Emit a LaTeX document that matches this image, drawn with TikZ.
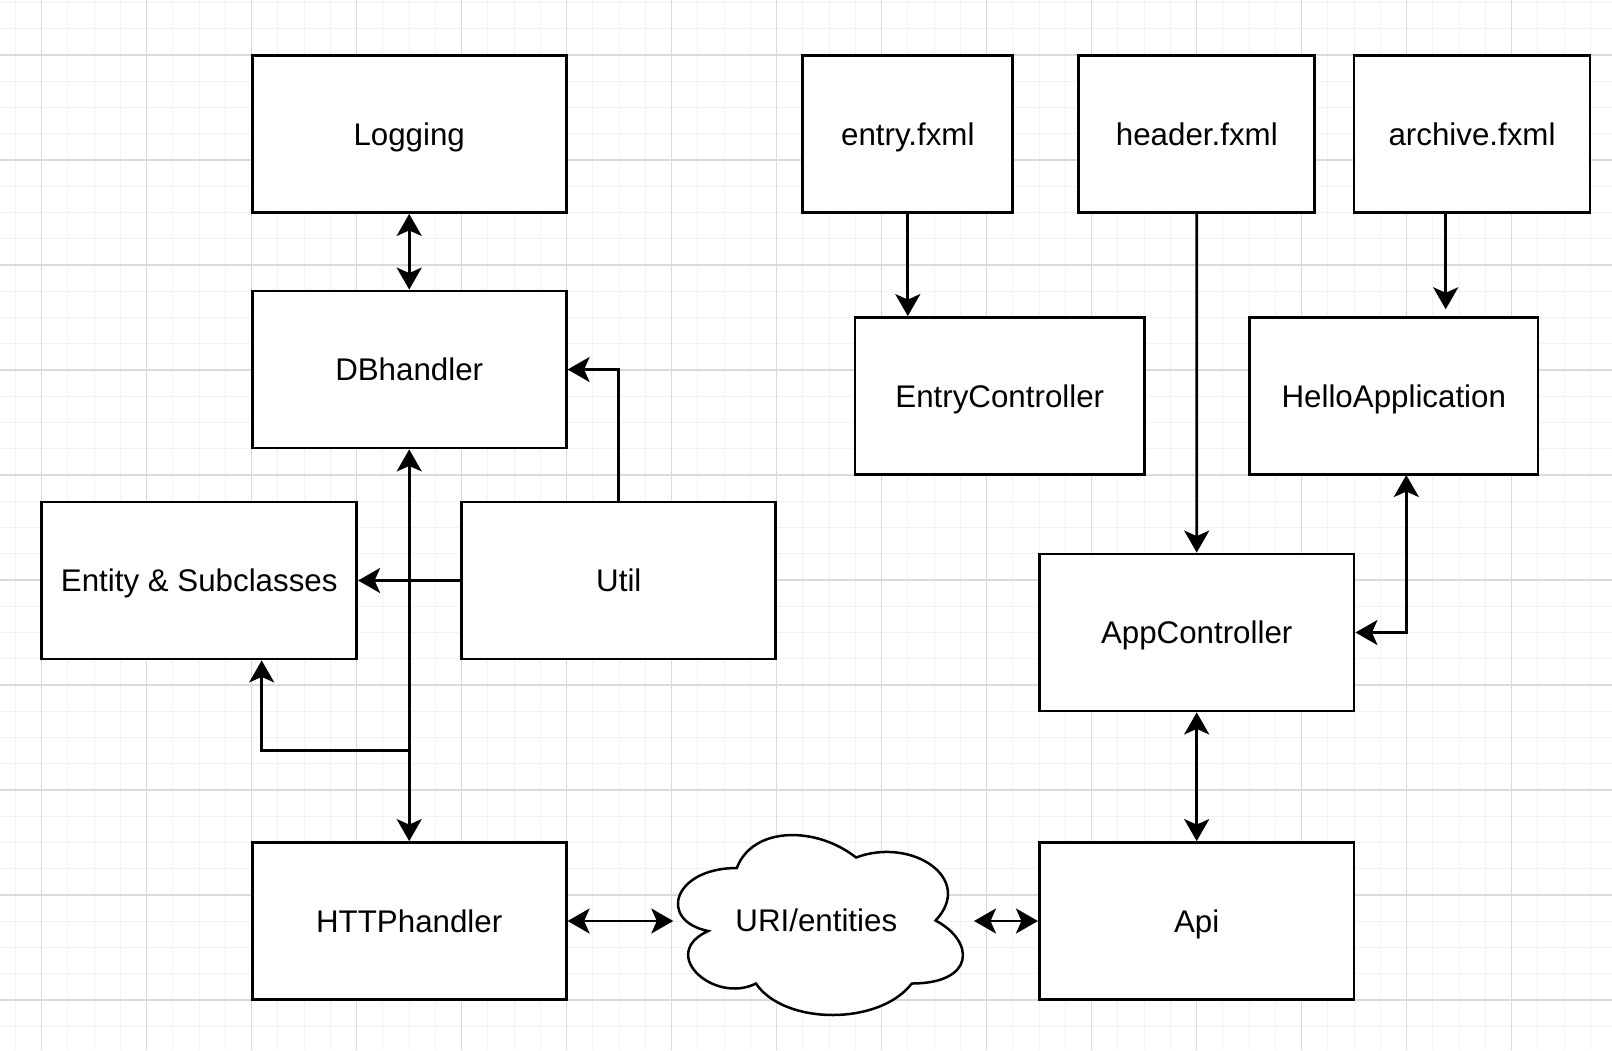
\documentclass[tikz,border=0pt]{standalone}
\usepackage{fontspec}
\setmainfont{Liberation Sans}
\usetikzlibrary{arrows.meta,calc}
\definecolor{gridminor}{HTML}{F2F2F2}
\definecolor{gridmajor}{HTML}{DADADA}
\tikzset{
  box/.style={draw=black, line width=2.8pt, fill=white, minimum height=157pt,
    inner sep=0pt, text height=22.2pt, text depth=0pt,
    font=\fontsize{31.3}{37}\selectfont},
  conn/.style={line width=2.7pt, black},
  tip/.tip={Stealth[length=22pt,width=25pt,inset=5.5pt]},
  oneway/.style={conn, -tip},
  twoway/.style={conn, tip-tip},
}
\begin{document}
\begin{tikzpicture}[x=1pt,y=-1pt]
\useasboundingbox (0,0) rectangle (1612,1050);
\fill[white] (0,0) rectangle (1612,1050);
% grid
\foreach \i in {0,...,61} \draw[gridminor, line width=1pt] ({15.45+26.25*\i},0) -- ({15.45+26.25*\i},1050);
\foreach \i in {0,...,40} \draw[gridminor, line width=1pt] (0,{2.5+26.25*\i}) -- (1612,{2.5+26.25*\i});
\foreach \i in {0,...,15} \draw[gridmajor, line width=1.4pt] ({41.7+105*\i},0) -- ({41.7+105*\i},1050);
\foreach \i in {0,...,9} \draw[gridmajor, line width=1.4pt] (0,{55+105*\i}) -- (1612,{55+105*\i});

% boxes
\node[box, minimum width=314pt] (log) at (409.2,134) {Logging};
\node[box, minimum width=314pt] (db) at (409.2,369.5) {DBhandler};
\node[box, minimum width=315pt] (ent) at (199.2,580.5) {Entity \& Subclasses};
\node[box, minimum width=314pt] (util) at (618.8,580.5) {Util};
\node[box, minimum width=314pt] (http) at (409.2,921) {HTTPhandler};
\node[box, minimum width=210pt] (entry) at (907.8,134) {entry.fxml};
\node[box, minimum width=236pt] (header) at (1196.8,134) {header.fxml};
\node[box, minimum width=236pt] (archive) at (1472,134) {archive.fxml};
\node[box, minimum width=289.5pt] (ectrl) at (999.8,396) {EntryController};
\node[box, minimum width=288.4pt] (hello) at (1393.8,396) {HelloApplication};
\node[box, minimum width=314.7pt] (app) at (1196.7,632.5) {AppController};
\node[box, minimum width=314.7pt] (api) at (1196.7,921) {Api};

% cloud
\begin{scope}[shift={(657.3,815.5)}, x=318pt, y=-210pt]
\draw[line width=2.5pt, fill=white] (0.25,0.25) .. controls (0.05,0.25) and (0,0.5) .. (0.16,0.55)
  .. controls (0,0.66) and (0.18,0.9) .. (0.31,0.8)
  .. controls (0.4,1) and (0.7,1) .. (0.8,0.8)
  .. controls (1,0.8) and (1,0.6) .. (0.875,0.5)
  .. controls (1,0.3) and (0.8,0.1) .. (0.625,0.2)
  .. controls (0.5,0.05) and (0.3,0.05) .. (0.25,0.25) -- cycle;
\end{scope}
\node[inner sep=0pt, text height=22.2pt, text depth=0pt, font=\fontsize{31.3}{37}\selectfont] (uri) at (816.3,920.5) {URI/entities};
\coordinate (cl) at (673.3,921);
\coordinate (cr) at (974,921);

% connectors
\coordinate (br) at (409.2,750.5);
\coordinate (hin) at (1445.7,309.3);
\coordinate (hx) at (1406.3,475);

\draw[twoway] (log.south) -- (db.north);
\draw[oneway] (util.north) |- (db.east);
\draw[oneway] (util.west) -- (ent.east);
\draw[twoway] (db.south) -- (http.north);
\draw[oneway] (br) -| ([xshift=62.5pt]ent.south);
\draw[twoway] (http.east) -- (cl);
\draw[twoway] (cr) -- (api.west);
\draw[oneway] (entry.south) -- (entry.south |- ectrl.north);
\draw[oneway] (header.south) -- (app.north);
\draw[oneway] (hin |- archive.south) -- (hin);
\draw[twoway] (hx) |- (app.east);
\draw[twoway] (app.south) -- (api.north);
\end{tikzpicture}
\end{document}
